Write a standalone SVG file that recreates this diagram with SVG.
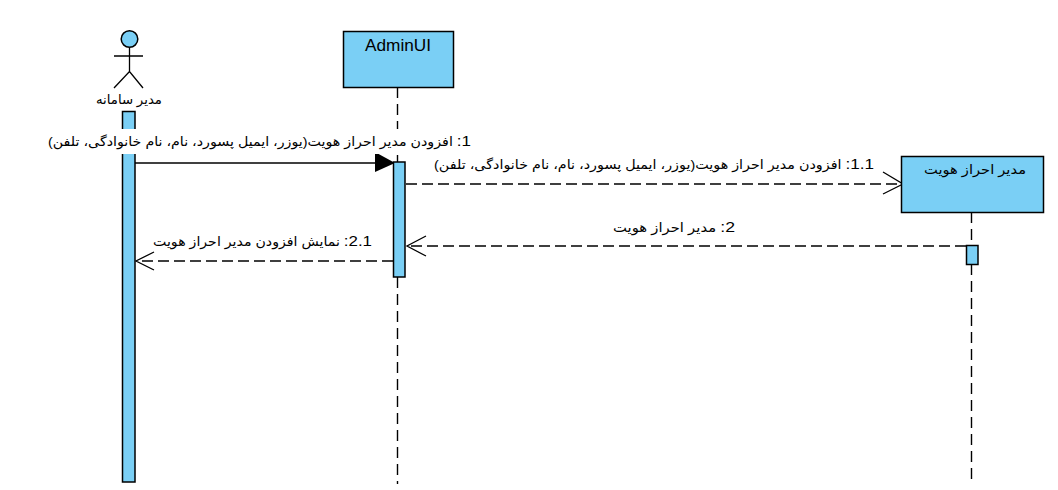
<svg xmlns="http://www.w3.org/2000/svg" width="1058" height="490" viewBox="0 0 1058 490">
<style>
.box{fill:#7acff5;stroke:#000;stroke-width:1.5}
.line{fill:none;stroke:#000;stroke-width:1.3}
.dash{fill:none;stroke:#000;stroke-width:1.3;stroke-dasharray:11 5}
.life{fill:none;stroke:#000;stroke-width:1.4;stroke-dasharray:11 6}
text{font-family:"Liberation Sans",Arial,"Noto Sans","DejaVu Sans",sans-serif;fill:#000}
.rtl{direction:rtl;unicode-bidi:plaintext;text-anchor:start;font-size:13px}
.num{font-size:15.500px}
</style>
<rect width="1058" height="490" fill="#fff"/>
<g id="connectors">
<path class="life" d="M397.500 87V162M397.500 277V484"/>
<path class="life" d="M971.500 212V245M971.500 264V484"/>
<path class="line" d="M135 163H376"/>
<path d="M375 152L395 163L375 172Z" fill="#000"/>
<path class="dash" d="M406 184H902"/>
<path class="line" d="M883 172L903 184L883 194"/>
<path class="dash" d="M966 246H408"/>
<path class="line" d="M426 236L407 246L426 256"/>
<path class="dash" d="M393 261H137"/>
<path class="line" d="M154 252L136 261L154 270"/>
</g>
<g id="actor-admin">
<circle class="box" cx="129.500" cy="39" r="8.300" stroke-width="1.300"/>
<path class="line" d="M129.500 47.500V71.500M114 56H143M114 88L129.500 71.500L143 88"/>
<text class="rtl" x="162" y="104" textLength="66" lengthAdjust="spacingAndGlyphs">مدیر سامانه</text>
<rect class="box" x="122.500" y="111.500" width="12.500" height="370.500"/>
</g>
<g id="node-adminui">
<rect class="box" x="343.500" y="31.500" width="110" height="56"/>
<text x="398" y="51" font-size="17" text-anchor="middle" textLength="66" lengthAdjust="spacingAndGlyphs">AdminUI</text>
<rect class="box" x="393.500" y="162" width="11.500" height="115"/>
</g>
<g id="node-auth-admin">
<rect class="box" x="901.500" y="156.500" width="142" height="56"/>
<text class="rtl" x="1026" y="174" textLength="102" lengthAdjust="spacingAndGlyphs">مدیر احراز هویت</text>
<rect class="box" x="966.500" y="245.500" width="11.500" height="19"/>
</g>
<g id="labels">
<rect x="47" y="129" width="423" height="25" fill="#fff"/>
<text class="rtl" x="471" y="146" textLength="423" lengthAdjust="spacingAndGlyphs"><tspan class="num">1:</tspan> افزودن مدیر احراز هویت(یوزر، ایمیل پسورد، نام، نام خانوادگی، تلفن)</text>
<text class="rtl" x="874" y="169" textLength="440" lengthAdjust="spacingAndGlyphs"><tspan class="num">1.1:</tspan> افزودن مدیر احراز هویت(یوزر، ایمیل پسورد، نام، نام خانوادگی، تلفن)</text>
<text class="rtl" x="735" y="232" textLength="122" lengthAdjust="spacingAndGlyphs"><tspan class="num">2:</tspan> مدیر احراز هویت</text>
<text class="rtl" x="372" y="246" textLength="219" lengthAdjust="spacingAndGlyphs"><tspan class="num">2.1:</tspan> نمایش افزودن مدیر احراز هویت</text>
</g>
</svg>
